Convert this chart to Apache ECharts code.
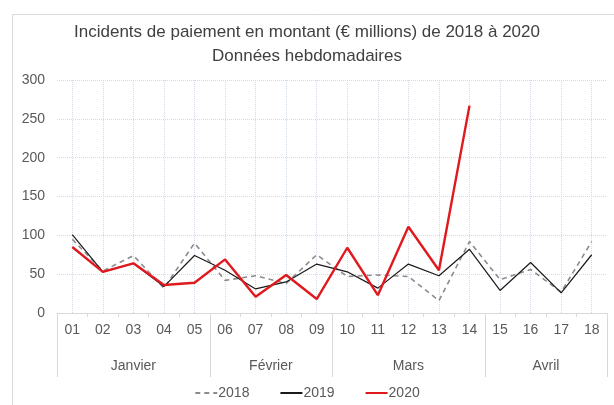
<!DOCTYPE html>
<html lang="fr">
<head>
    <meta charset="UTF-8">
    <title>Incidents de paiement</title>
    <script src="https://cdn.jsdelivr.net/npm/echarts@6/dist/echarts.min.js"></script>
    <style>
        html, body { margin: 0; padding: 0; background: #fff; }
        #chart { width: 614px; height: 405px; }
    </style>
</head>
<body>
    <div id="chart"></div>
    <script>
        // semaines
        const weeks = ['01','02','03','04','05','06','07','08','09','10','11','12','13','14','15','16','17','18'];
        // mois et nombre de semaines par mois
        const months = ['Janvier', 'Février', 'Mars', 'Avril'];
        const monthWeeks = [5, 4, 5, 4];
        const yTicks = [0, 50, 100, 150, 200, 250, 300];

        const s2018 = [95, 54, 74, 32, 90, 42, 48, 38, 75, 47, 49, 47, 16, 92, 43, 56, 27, 92];
        const s2019 = [101, 53, 64, 34, 74, 55, 31, 40, 63, 53, 32, 63, 48, 82, 29, 65, 26, 75];
        const s2020 = [85, 53, 64, 36, 39, 69, 21, 49, 18, 84, 23, 111, 55, 267];

        // limites et centres des mois (en semaines)
        let bounds = [0], centers = [];
        monthWeeks.forEach((n, i) => {
            let start = bounds[i];
            bounds.push(start + n);
            centers.push(start + n / 2);
        });

        const font = 'Liberation Sans';
        const txt = '#595959';

        let option = {
            animation: false,
            backgroundColor: '#fff',
            textStyle: { fontFamily: font },
            graphic: [{
                type: 'rect',
                left: 10, top: 12,
                shape: { width: 620, height: 420 },
                style: { fill: 'none', stroke: '#d9d9d9', lineWidth: 1 },
                silent: true
            }],
            title: {
                text: 'Incidents de paiement en montant (€ millions) de 2018 à 2020\nDonnées hebdomadaires',
                left: 'center',
                top: 15,
                textStyle: { color: '#404040', fontSize: 17, fontWeight: 'normal', lineHeight: 24, fontFamily: font }
            },
            legend: {
                bottom: 0,
                left: 'center',
                itemGap: 30,
                itemWidth: 22,
                itemHeight: 10,
                itemStyle: { opacity: 0 },
                textStyle: { color: txt, fontSize: 14, padding: [0, 0, 0, -4] },
                data: ['2018', '2019', '2020']
            },
            grid: { left: 57, right: 7, top: 80, bottom: 92 },
            xAxis: [{
                type: 'category',
                data: weeks,
                axisLine: { show: true, lineStyle: { color: '#d9d9d9' } },
                axisTick: { show: true, length: 4, lineStyle: { color: '#d9d9d9' } },
                axisLabel: { color: txt, fontSize: 14, margin: 10 },
                splitLine: { show: true, alignWithLabel: true, lineStyle: { color: '#cfdbe7', type: 'dotted' } }
            }, {
                type: 'value',
                min: 0,
                max: weeks.length,
                position: 'bottom',
                axisLine: { show: false },
                splitLine: { show: false },
                axisTick: {
                    show: true,
                    length: 64,
                    customValues: bounds,
                    lineStyle: { color: '#d9d9d9' }
                },
                axisLabel: {
                    color: txt,
                    fontSize: 14,
                    margin: 46,
                    customValues: centers,
                    formatter: v => months[centers.indexOf(v)] || ''
                }
            }],
            yAxis: {
                type: 'value',
                min: yTicks[0],
                max: yTicks[yTicks.length - 1],
                interval: 50,
                axisLine: { show: false },
                axisTick: { show: false },
                axisLabel: { color: txt, fontSize: 14, margin: 12 },
                splitLine: { lineStyle: { color: '#cfdbe7', type: 'dotted' } }
            },
            series: [{
                name: '2018',
                type: 'line',
                data: s2018,
                symbol: 'none',
                color: '#8c8c8c',
                lineStyle: { width: 1.6, type: [5, 4], color: '#8c8c8c' }
            }, {
                name: '2019',
                type: 'line',
                data: s2019,
                symbol: 'none',
                color: '#1a1a1a',
                lineStyle: { width: 1.2, color: '#1a1a1a' }
            }, {
                name: '2020',
                type: 'line',
                data: s2020,
                symbol: 'none',
                color: '#e0191e',
                lineStyle: { width: 2.4, color: '#e0191e' }
            }]
        };

        let chart = echarts.init(document.getElementById('chart'));
        chart.setOption(option);
    </script>
</body>
</html>
